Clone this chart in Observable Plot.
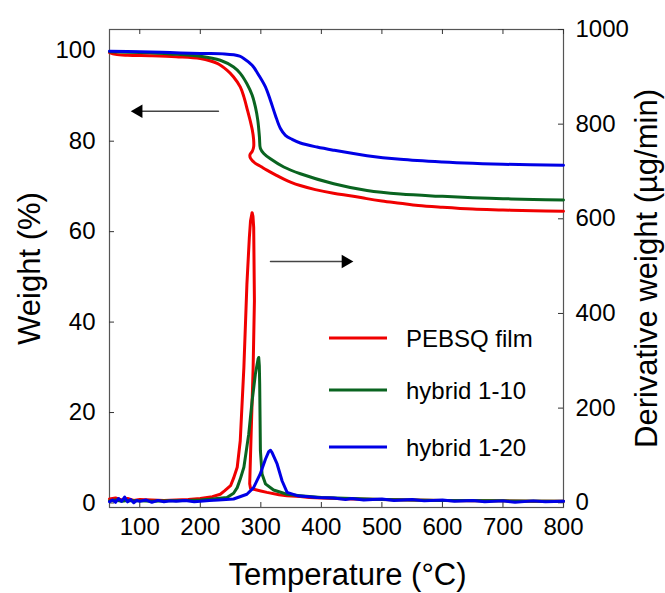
<!DOCTYPE html>
<html><head><meta charset="utf-8">
<script src="https://cdn.jsdelivr.net/npm/d3@7"></script>
<script src="https://cdn.jsdelivr.net/npm/@observablehq/plot@0.6"></script>
<style>
body{margin:0;background:#fff}
#wrap{position:relative;width:665px;height:593px;overflow:hidden}
#legend{position:absolute;left:0;top:0}
</style>
</head><body><div id="wrap"></div>
<script>
// ---------- data ----------
const samples = ["PEBSQ film", "hybrid 1-10", "hybrid 1-20"];
const colors = ["#f00000", "#0a6420", "#0000e6"];
const xTicks = [100, 200, 300, 400, 500, 600, 700, 800];
const weightTicks = [0, 20, 40, 60, 80, 100];
const derivTicks = [0, 200, 400, 600, 800, 1000];
const xDomain = [50, 800];
const weightDomain = [-1, 104.7];
const derivDomain = [-10, 1000];

// TG: [temperature °C, weight %] in recorded order
const tgRed = [[50,99.6],[60,99.2],[80,99.0],[120,98.9],[160,98.7],[200,98.3],[228,97.2],[244,95.7],[255,94.2],[266,92.0],[272,89.8],[278,86.8],[283,84.2],[286,82.4],[288,80.5],[288.2,78.8],[286,77.8],[282,77.0],[283,76.2],[291,75.1],[300,74.4],[310,73.6],[325,72.5],[338,71.6],[350,70.9],[365,70.2],[390,69.3],[420,68.5],[450,67.9],[475,67.3],[500,66.8],[530,66.3],[560,65.8],[600,65.4],[650,65.0],[700,64.8],[750,64.6],[800,64.5]];
const tgGreen = [[50,99.8],[100,99.6],[150,99.3],[200,98.8],[233,97.9],[255,96.4],[266,95.0],[277,92.7],[285.6,90.2],[291,87.6],[295,84.6],[297.7,80.9],[299.3,78.4],[304.8,77.3],[315.8,76.1],[337.9,74.3],[365.3,72.8],[420.4,70.6],[475.4,69.1],[530.4,68.3],[600,67.8],[650,67.5],[700,67.3],[750,67.1],[800,67.0]];
const tgBlue = [[50,99.9],[100,99.8],[150,99.6],[200,99.4],[240,99.3],[255.3,99.1],[265,98.8],[271.8,98.3],[285.6,96.8],[296.6,94.6],[307.6,92.0],[315.9,89.0],[324.1,85.7],[332.4,82.8],[340.6,81.3],[351.7,80.4],[365.3,79.6],[392.8,78.7],[420.4,78.0],[475.4,76.8],[530.4,76.0],[600,75.4],[650,75.1],[700,74.9],[800,74.7]];

// DTG: [temperature °C, derivative weight µg/min] in recorded order
const dtgRed = [[50,8],[60,10],[70,6],[80,9],[90,5],[100,7],[120,6],[140,5],[160,6],[180,7],[200,9],[220,13],[233,18],[240,25],[250,36],[255,52],[261,75],[266,131],[272,286],[277,462],[281,560],[283,596],[285.6,613],[287,605],[288.2,582],[289.4,427],[287.3,286],[284,146],[281.6,40],[283,30],[290,28],[300,25],[310,22],[330,17],[343,15],[365,13],[380,11],[400,10],[450,8],[500,7],[550,6],[600,5],[650,4],[700,4],[750,3],[800,3]];
const dtgGreen = [[50,4],[60,6],[70,3],[80,5],[100,4],[120,3],[150,4],[180,5],[200,6],[220,8],[244,11],[255,20],[261,32],[266,50],[272,75],[280,145],[285.6,215],[291,272],[295.5,304],[296.5,307],[297.5,290],[298.1,251],[299.3,110],[302,61],[307.6,40],[321,27],[343,18],[365,15],[400,11],[450,9],[500,7],[600,5],[700,4],[800,3]];
const dtgBlue = [[50,2],[55,6],[60,1],[65,9],[70,3],[75,12],[80,2],[85,7],[90,0],[95,5],[100,3],[110,6],[120,1],[130,5],[140,2],[150,4],[160,3],[175,5],[190,2],[200,3],[215,5],[230,6],[255,8],[277,18],[288,32],[299,61],[307.6,92],[313,108],[316,111],[318.6,106],[326.9,82],[335.2,46],[343.4,22],[360,15],[393,11],[420,10],[440,7],[450,9],[470,6],[500,8],[520,5],[550,7],[570,4],[600,6],[620,3],[650,5],[670,2],[700,4],[720,1],[750,4],[770,2],[800,3]];

// annotation arrows (temperature from -> to, weight level)
const arrowNotes = [{from: 230, to: 98, level: 86.6}, {from: 316, to: 440, level: 53.4}];

// ---------- build ----------
const toW = d => weightDomain[0] + (d - derivDomain[0]) / (derivDomain[1] - derivDomain[0]) * (weightDomain[1] - weightDomain[0]);
const fromW = w => derivDomain[0] + (w - weightDomain[0]) / (weightDomain[1] - weightDomain[0]) * (derivDomain[1] - derivDomain[0]);

const tgSets = [tgRed, tgGreen, tgBlue];
const dtgSets = [dtgRed, dtgGreen, dtgBlue];
const tgRows = tgSets.flatMap((s, k) => s.map(([t, w]) => ({t, v: w, sample: samples[k]})));
const dtgRows = dtgSets.flatMap((s, k) => s.map(([t, d]) => ({t, v: toW(d), sample: samples[k]})));

const W = 665, H = 593, mT = 29, mR = 102, mB = 86, mL = 109;
const fw = W - mL - mR, fh = H - mT - mB, tick = 5;

const chart = Plot.plot({
  width: W, height: H,
  marginTop: mT, marginRight: mR, marginBottom: mB, marginLeft: mL,
  x: {domain: xDomain},
  y: {domain: weightDomain},
  color: {domain: samples, range: colors},
  style: {fontFamily: "'Liberation Sans', Arial, sans-serif", fontSize: "24px", color: "#000", background: "#fff"},
  marks: [
    Plot.frame({stroke: "#555", strokeWidth: 1.2}),
    // inward tick marks
    Plot.ruleX(xTicks, {insetTop: fh - tick, stroke: "#333"}),
    Plot.ruleX(xTicks, {insetBottom: fh - tick, stroke: "#333"}),
    Plot.ruleY(weightTicks, {insetRight: fw - tick, stroke: "#333"}),
    Plot.ruleY(derivTicks.map(toW), {insetLeft: fw - tick, stroke: "#333"}),
    // tick labels
    Plot.axisX(xTicks, {anchor: "bottom", tickSize: 0, tickPadding: 10, label: null, fontSize: 24}),
    Plot.axisY(weightTicks, {anchor: "left", tickSize: 0, tickPadding: 14, label: null, fontSize: 24}),
    Plot.axisY(derivTicks.map(toW), {anchor: "right", tickSize: 0, tickPadding: 12, label: null, fontSize: 24, tickFormat: w => String(Math.round(fromW(w)))}),
    // axis titles
    Plot.text(["Temperature (°C)"], {frameAnchor: "bottom", dy: 68, dx: 11, fontSize: 31, textAnchor: "middle", lineAnchor: "middle"}),
    Plot.text(["Weight (%)"], {frameAnchor: "left", rotate: -90, dx: -79, fontSize: 31, textAnchor: "middle", lineAnchor: "middle"}),
    Plot.text(["Derivative weight (µg/min)"], {frameAnchor: "right", rotate: -90, dx: 84, fontSize: 31, textAnchor: "middle", lineAnchor: "middle"}),
    // data
    Plot.line(tgRows, {x: "t", y: "v", z: "sample", stroke: "sample", strokeWidth: 3, curve: "catmull-rom"}),
    Plot.line(dtgRows, {x: "t", y: "v", z: "sample", stroke: "sample", strokeWidth: 3, curve: "linear"}),
    // annotation arrows
    Plot.arrow(arrowNotes, {x1: "from", x2: "to", y1: "level", y2: "level", stroke: "#444", strokeWidth: 1.5, headLength: 0}),
    Plot.dot(arrowNotes, {x: "to", y: "level", symbol: "triangle", r: 5, fill: "#000", stroke: null,
      rotate: d => d.to < d.from ? -90 : 90})
  ]
});
const wrap = document.getElementById("wrap");
wrap.appendChild(chart);

// legend overlay
const ns = "http://www.w3.org/2000/svg";
const leg = document.createElementNS(ns, "svg");
leg.setAttribute("id", "legend");
leg.setAttribute("width", W); leg.setAttribute("height", H);
const legRows = [338, 390, 447];
samples.forEach((s, i) => {
  const ln = document.createElementNS(ns, "line");
  ln.setAttribute("x1", 329); ln.setAttribute("x2", 387);
  ln.setAttribute("y1", legRows[i]); ln.setAttribute("y2", legRows[i]);
  ln.setAttribute("stroke", colors[i]); ln.setAttribute("stroke-width", 3);
  leg.appendChild(ln);
  const tx = document.createElementNS(ns, "text");
  tx.setAttribute("x", 406); tx.setAttribute("y", legRows[i] + 8.6);
  tx.setAttribute("font-family", "'Liberation Sans', Arial, sans-serif");
  tx.setAttribute("font-size", 24);
  tx.textContent = s;
  leg.appendChild(tx);
});
wrap.appendChild(leg);
</script>
</body></html>
